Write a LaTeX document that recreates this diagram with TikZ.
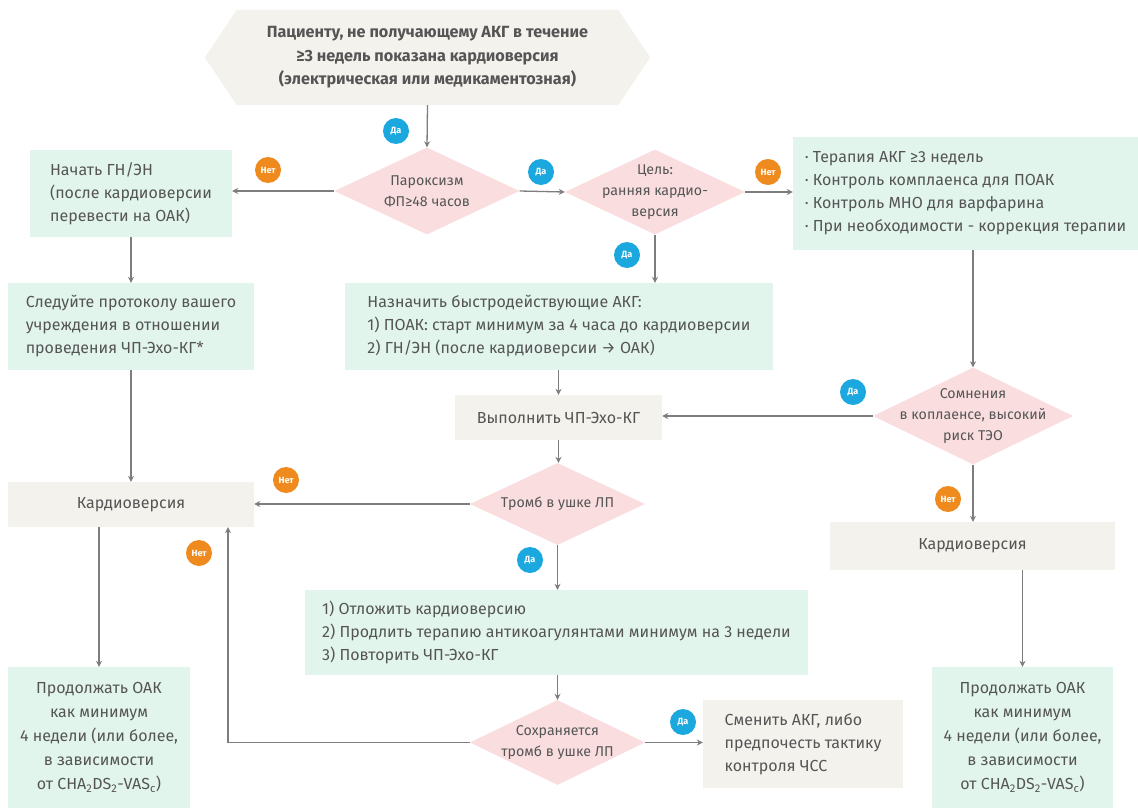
\documentclass[tikz,border=0pt]{standalone}
\usepackage{fontspec}
\setmainfont{Fira Sans}
\usetikzlibrary{shapes.geometric,arrows.meta,backgrounds,calc}
\definecolor{boxgreen}{RGB}{226,245,237}
\definecolor{boxbeige}{RGB}{244,242,236}
\definecolor{diapink}{RGB}{250,222,223}
\definecolor{textgray}{RGB}{85,85,85}
\definecolor{arrgray}{RGB}{125,125,125}
\definecolor{yesblue}{RGB}{27,168,223}
\definecolor{noorange}{RGB}{238,138,30}
\begin{document}
\begin{tikzpicture}[x=1pt,y=-1pt,
  txt/.style={text=textgray, font=\fontsize{16}{23}\selectfont},
  gbox/.style={txt, fill=boxgreen, rectangle, inner sep=0pt, align=left},
  bbox/.style={txt, fill=boxbeige, rectangle, inner sep=0pt, align=left},
  dia/.style={diamond, fill=diapink, inner sep=0pt},
  dtext/.style={text=textgray, font=\fontsize{14.2}{21}\selectfont, align=center},
  arr/.style={draw=arrgray, line width=1.3pt, -{Stealth[length=6pt,width=6pt]}},
  badge/.style={circle, text=white, font=\bfseries\fontsize{9}{9}\selectfont, minimum size=26pt, inner sep=0pt},
  yes/.style={badge, fill=yesblue},
  no/.style={badge, fill=noorange}
]
\path[use as bounding box] (0,0) rectangle (1138,808);

% start
\node[txt, font=\bfseries\fontsize{16.2}{23.5}\selectfont, align=center, minimum width=445, minimum height=95, inner sep=0pt] (start) at (427.5,57.5)
  {Пациенту, не получающему АКГ в течение\\≥3 недель показана кардиоверсия\\(электрическая или медикаментозная)};
\begin{scope}[on background layer]
\fill[boxbeige] (start.west) -- ($(start.north west)+(32,0)$) -- ($(start.north east)+(-32,0)$) -- (start.east) -- ($(start.south east)+(-32,0)$) -- ($(start.south west)+(32,0)$) -- cycle;
\end{scope}

% diamonds
\node[dia, minimum width=185, minimum height=87, label={[dtext]center:{Пароксизм\\ФП≥48 часов}}] (d1) at (427,191) {};
\node[dia, minimum width=180, minimum height=85, label={[dtext]center:{Цель:\\ранняя кардио-\\версия}}] (d2) at (655,192) {};
\node[dia, minimum width=200, minimum height=97, label={[dtext]center:{Сомнения\\в коплаенсе, высокий\\риск ТЭО}}] (d3) at (973,416) {};
\node[dia, minimum width=175, minimum height=82, label={[dtext]center:{Тромб в ушке ЛП}}] (dt) at (557.5,504) {};
\node[dia, minimum width=175, minimum height=85, label={[dtext]center:{Сохраняется\\тромб в ушке ЛП}}] (ds) at (557.5,742.5) {};

% boxes
\node[gbox, minimum width=202, minimum height=87] (b1) at (131,193.5)
  {Начать ГН/ЭН\\(после кардиоверсии\\перевести на ОАК)};
\node[gbox, minimum width=345, minimum height=113] (b3) at (965.5,193.5)
  {· Терапия АКГ ≥3 недель\\· Контроль комплаенса для ПОАК\\· Контроль МНО для варфарина\\· При необходимости - коррекция терапии};
\node[gbox, minimum width=246, minimum height=87] (b2) at (131,326.5)
  {Следуйте протоколу вашего\\учреждения в отношении\\проведения ЧП-Эхо-КГ*};
\node[gbox, minimum width=428, minimum height=87] (bn) at (559,326.5)
  {Назначить быстродействующие АКГ:\\1) ПОАК: старт минимум за 4 часа до кардиоверсии\\2) ГН/ЭН (после кардиоверсии → ОАК)};
\node[bbox, minimum width=207, minimum height=45] (vyp) at (558.5,417.5) {Выполнить ЧП-Эхо-КГ};
\node[bbox, minimum width=246, minimum height=45] (kl) at (131,504.5) {Кардиоверсия};
\node[bbox, minimum width=285, minimum height=48] (kr) at (972.5,546) {Кардиоверсия};
\node[gbox, minimum width=503, minimum height=85] (ot) at (556.5,632.5)
  {1) Отложить кардиоверсию\\2) Продлить терапию антикоагулянтами минимум на 3 недели\\3) Повторить ЧП-Эхо-КГ};
\node[bbox, minimum width=200, minimum height=88] (sm) at (803,744)
  {Сменить АКГ, либо\\предпочесть тактику\\контроля ЧСС};
\node[gbox, align=center, font=\fontsize{16}{24}\selectfont, minimum width=182, minimum height=141] (fl) at (99,737.5)
  {Продолжать ОАК\\как минимум\\4 недели (или более,\\в зависимости\\от CHA\textsubscript{2}DS\textsubscript{2}-VAS\textsubscript{c})};
\node[gbox, align=center, font=\fontsize{16}{24}\selectfont, minimum width=181, minimum height=141] (fr) at (1022.5,737.5)
  {Продолжать ОАК\\как минимум\\4 недели (или более,\\в зависимости\\от CHA\textsubscript{2}DS\textsubscript{2}-VAS\textsubscript{c})};

% connectors
\draw[arr] (start.south) -- (d1.north);
\draw[arr] (d1.west) -- (d1.west -| b1.east);
\draw[arr] (d1.east) -- (d2.west);
\draw[arr] (d2.east) -- (d2.east -| b3.west);
\draw[arr] (d2.south) -- (d2.south |- bn.north);
\draw[arr] (b1.south) -- (b2.north);
\draw[arr] (b2.south) -- (kl.north);
\draw[arr] (vyp.north |- bn.south) -- (vyp.north);
\draw[arr] (d3.north |- b3.south) -- (d3.north);
\draw[arr] (d3.west) -- (d3.west -| vyp.east);
\draw[arr] (d3.south) -- (d3.south |- kr.north);
\draw[arr] (vyp.south) -- (vyp.south |- dt.north);
\draw[arr] (dt.west) -- (dt.west -| kl.east);
\draw[arr] (dt.south) -- (dt.south |- ot.north);
\draw[arr] (fl.north |- kl.south) -- (fl.north);
\draw[arr] (fr.north |- kr.south) -- (fr.north);
\draw[arr] (ds.north |- ot.south) -- (ds.north);
\draw[arr] (ds.east) -- (ds.east -| sm.west);
\coordinate (ret) at ($(kl.south)+(97,0)$);
\draw[arr] (ds.west) -| (ret);

% badges
\node[yes] (y1) at (396,131) {Да};
\node[yes] (y2) at (541,172) {Да};
\node[yes] (y3) at (627,255) {Да};
\node[yes] (y4) at (853,392) {Да};
\node[yes] (y5) at (530,560) {Да};
\node[yes] (y6) at (683,722) {Да};
\node[no] (n1) at (268,170) {Нет};
\node[no] (n2) at (768,172) {Нет};
\node[no] (n3) at (286,480) {Нет};
\node[no] (n4) at (948,499) {Нет};
\node[no] (n5) at (199,553) {Нет};
\end{tikzpicture}
\end{document}
